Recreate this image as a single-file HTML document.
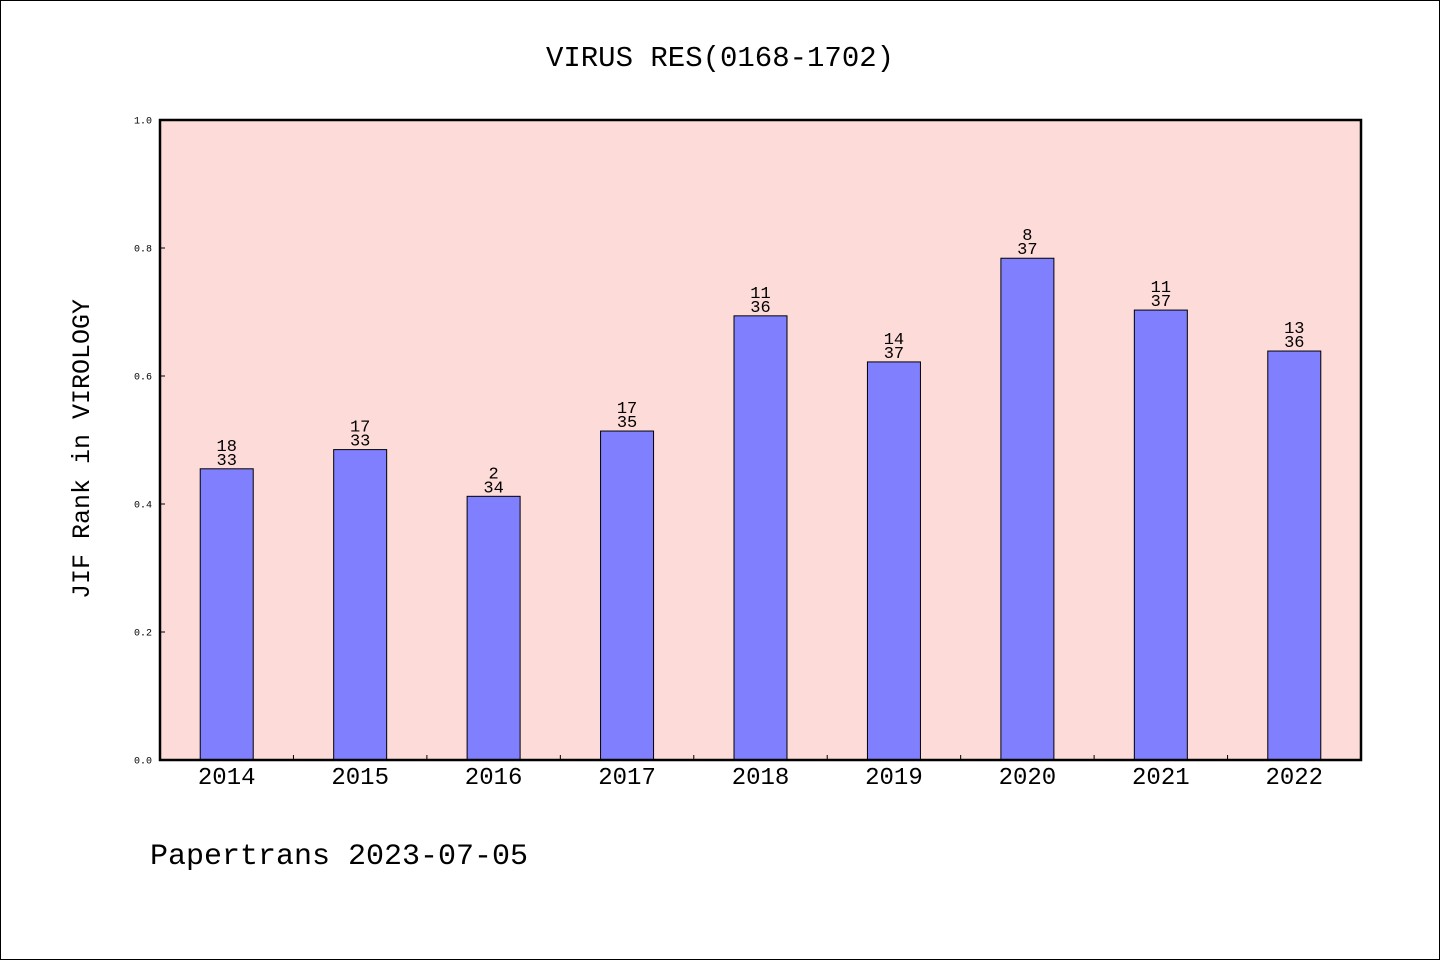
<!DOCTYPE html>
<html><head><meta charset="utf-8"><style>
html,body{margin:0;padding:0;background:#fff}
svg{display:block}
text{font-family:"Liberation Mono","WenQuanYi Zen Hei",monospace;fill:#000}
</style></head><body>
<svg id="chart" width="1440" height="960">
<rect x="0.5" y="0.5" width="1439" height="959" fill="#fff" stroke="#000"/>
<text x="720" y="66" font-size="29" text-anchor="middle">VIRUS RES(0168-1702)</text>
<rect x="160" y="120" width="1201" height="640" fill="#fddbd8"/>
<g id="bars"></g>
<g id="yaxis"></g>
<g id="xaxis"></g>
<rect x="160" y="120" width="1201" height="640" fill="none" stroke="#000" stroke-width="2.5"/>
<text transform="translate(89,449) rotate(-90)" font-size="25" text-anchor="middle">JIF Rank in VIROLOGY</text>
<text x="150" y="864" font-size="30">Papertrans 2023-07-05</text>
</svg>
<script>
const years=["2014","2015","2016","2017","2018","2019","2020","2021","2022"];
const values=[0.455,0.485,0.412,0.514,0.694,0.622,0.784,0.703,0.639];
const ranks=["18","17","2","17","11","14","8","11","13"];
const totals=["33","33","34","35","36","37","37","37","36"];
const yTicks=["0.0","0.2","0.4","0.6","0.8","1.0"];
const NS="http://www.w3.org/2000/svg";
const X0=160,W=1201,Y0=760,H=640;
const band=W/years.length;
const xc=i=>X0+band*(i+0.5);
const y=v=>Y0-v*H;
function mk(tag,attrs,parent,txt){const e=document.createElementNS(NS,tag);for(const k in attrs)e.setAttribute(k,attrs[k]);if(txt!==undefined)e.textContent=txt;parent.appendChild(e);return e;}
const gb=document.getElementById('bars'),gy=document.getElementById('yaxis'),gx=document.getElementById('xaxis');
years.forEach((yr,i)=>{
  const r=mk('rect',{x:xc(i)-26.5,y:y(values[i]),width:53,height:values[i]*H,fill:'#8080ff',stroke:'#000','stroke-width':1},gb);
  
  
  const t1=mk('text',{x:xc(i),y:y(values[i])-18,'font-size':17,'text-anchor':'middle'},gb,ranks[i]);
  
  
  const t2=mk('text',{x:xc(i),y:y(values[i])-4,'font-size':17,'text-anchor':'middle'},gb,totals[i]);
  
  
  const xl=mk('text',{x:xc(i),y:784,'font-size':24,'text-anchor':'middle'},gx,yr);
  
  
  if(i>0){const tk=mk('line',{x1:X0+band*i,x2:X0+band*i,y1:Y0,y2:Y0-5,stroke:'#000'},gx);
  
  }
});
yTicks.forEach(lbl=>{
  const v=parseFloat(lbl);
  const tk=mk('line',{x1:X0,x2:X0+5,y1:y(v),y2:y(v),stroke:'#000'},gy);
  
  
  const t=mk('text',{x:152,y:y(v)+3.5,'font-size':10,'text-anchor':'end'},gy,lbl);
  
  
});
</script>
</body></html>
